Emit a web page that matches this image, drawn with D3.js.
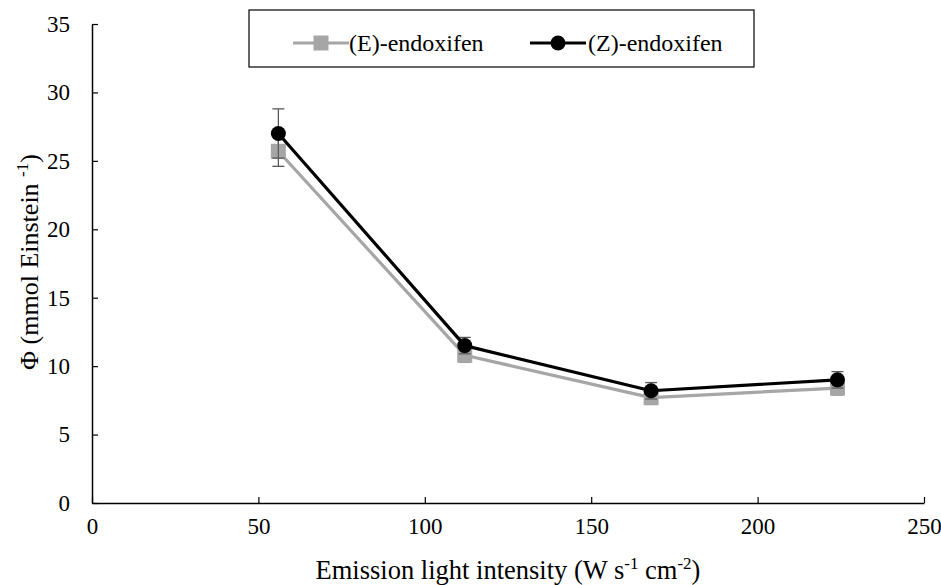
<!DOCTYPE html>
<html><head><meta charset="utf-8">
<script src="https://cdn.jsdelivr.net/npm/d3@7/dist/d3.min.js"></script>
<style>body{margin:0;background:#fff;}</style>
</head><body><svg id="c" width="941" height="585"></svg>
<script>
const xValues = [56, 112, 168, 224];
const eValues = [25.7, 10.8, 7.7, 8.4];
const eErrors = [1.1, 0.5, 0.5, 0.5];
const zValues = [27.0, 11.5, 8.2, 9.0];
const zErrors = [1.8, 0.6, 0.6, 0.6];
const xTicks = [0, 50, 100, 150, 200, 250];
const yTicks = [0, 5, 10, 15, 20, 25, 30, 35];
const seriesNames = ["(E)-endoxifen", "(Z)-endoxifen"];

const FONT = "'Liberation Serif'";
const svg = d3.select("#c");
const x = d3.scaleLinear().domain([0, 250]).range([92, 924]);
const y = d3.scaleLinear().domain([0, 35]).range([503, 24]);

const xAxis = d3.axisBottom(x).tickValues(xTicks).tickSize(-6).tickSizeOuter(0).tickPadding(15);
const gx = svg.append("g").attr("transform", "translate(0,503)").call(xAxis).attr("font-family", FONT);
gx.select(".domain").attr("stroke", "#000").attr("stroke-width", 1.5);
gx.selectAll(".tick line").attr("stroke", "#000").attr("stroke-width", 1.2);
gx.selectAll(".tick text").attr("font-size", 23).attr("fill", "#000").attr("dy", "0.71em").style("font-family", FONT);

const yAxis = d3.axisLeft(y).tickValues(yTicks).tickSize(-6).tickSizeOuter(0).tickPadding(22);
const gy = svg.append("g").attr("transform", "translate(92,0)").call(yAxis).attr("font-family", FONT);
gy.select(".domain").attr("stroke", "#000").attr("stroke-width", 1.5);
gy.selectAll(".tick line").attr("stroke", "#000").attr("stroke-width", 1.2);
gy.selectAll(".tick text").attr("font-size", 23).attr("fill", "#000").style("font-family", FONT);

const series = [
  {name: seriesNames[0], vals: eValues, errs: eErrors, color: "#a6a6a6", marker: "square"},
  {name: seriesNames[1], vals: zValues, errs: zErrors, color: "#000000", marker: "circle"}
];

const line = d3.line().x(d => x(d[0])).y(d => y(d[1]));

series.forEach(s => {
  const pts = xValues.map((xv, i) => [xv, s.vals[i], s.errs[i]]);
  const g = svg.append("g");
  pts.forEach(p => {
    const cx = x(p[0]);
    const y1 = y(p[1] + p[2]), y2 = y(p[1] - p[2]);
    g.append("line").attr("x1", cx).attr("x2", cx).attr("y1", y1).attr("y2", y2)
      .attr("stroke", "#595959").attr("stroke-width", 1.3);
    [y1, y2].forEach(yy => g.append("line").attr("x1", cx - 6).attr("x2", cx + 6)
      .attr("y1", yy).attr("y2", yy).attr("stroke", "#595959").attr("stroke-width", 1.3));
  });
  g.append("path").datum(pts).attr("d", line).attr("fill", "none")
    .attr("stroke", s.color).attr("stroke-width", 3.2).attr("stroke-linejoin", "round");
  pts.forEach(p => {
    if (s.marker === "square") {
      g.append("rect").attr("x", x(p[0]) - 7.5).attr("y", y(p[1]) - 7.5).attr("width", 15).attr("height", 15)
        .attr("fill", s.color);
    } else {
      g.append("circle").attr("cx", x(p[0])).attr("cy", y(p[1])).attr("r", 7.5).attr("fill", s.color);
    }
  });
});

const lg = svg.append("g").attr("font-family", FONT);
lg.append("rect").attr("x", 249).attr("y", 10).attr("width", 505).attr("height", 57)
  .attr("fill", "#fff").attr("stroke", "#000").attr("stroke-width", 1.2);
const legPos = [{lx: 293, tx: 349}, {lx: 530, tx: 588}];
series.forEach((s, i) => {
  const p = legPos[i];
  const cy = 43;
  lg.append("line").attr("x1", p.lx).attr("x2", p.lx + 56).attr("y1", cy).attr("y2", cy)
    .attr("stroke", s.color).attr("stroke-width", 3.2);
  if (s.marker === "square") {
    lg.append("rect").attr("x", p.lx + 28 - 7.5).attr("y", cy - 7.5).attr("width", 15).attr("height", 15).attr("fill", s.color);
  } else {
    lg.append("circle").attr("cx", p.lx + 28).attr("cy", cy).attr("r", 7.5).attr("fill", s.color);
  }
  lg.append("text").attr("x", p.tx).attr("y", cy).attr("dy", "0.35em").attr("font-size", 24)
    .style("font-family", FONT).attr("fill", "#000").text(s.name);
});

const xt = svg.append("text").attr("x", 508).attr("y", 579).attr("text-anchor", "middle")
  .attr("font-size", 26.5).style("font-family", FONT).attr("fill", "#000");
xt.append("tspan").text("Emission light intensity (W s");
xt.append("tspan").attr("font-size", 17).attr("dy", -10).text("-1");
xt.append("tspan").attr("dy", 10).text(" cm");
xt.append("tspan").attr("font-size", 17).attr("dy", -10).text("-2");
xt.append("tspan").attr("dy", 10).text(")");

const yt = svg.append("text").attr("transform", "translate(38,262) rotate(-90)").attr("text-anchor", "middle")
  .attr("font-size", 26).style("font-family", FONT).attr("fill", "#000");
yt.append("tspan").text("Φ (mmol Einstein ");
yt.append("tspan").attr("font-size", 17).attr("dy", -10).text("-1");
yt.append("tspan").attr("dy", 10).text(")");
</script>
</body></html>
